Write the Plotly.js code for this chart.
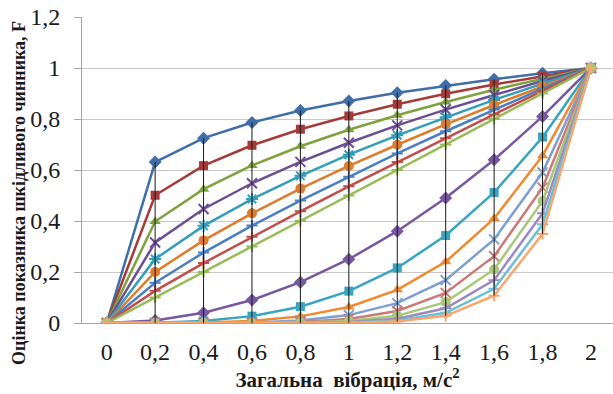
<!DOCTYPE html>
<html>
<head>
<meta charset="utf-8">
<script src="https://cdn.plot.ly/plotly-3.0.1.min.js"></script>
<style>html,body{margin:0;padding:0;background:#fff;}#chart{width:613px;height:394px;}</style>
</head>
<body>
<div id="chart"></div>
<script>
// Загальна вібрація, м/с2
var xValues = [0, 0.2, 0.4, 0.6, 0.8, 1, 1.2, 1.4, 1.6, 1.8, 2];
var xTickLabels = ["0", "0,2", "0,4", "0,6", "0,8", "1", "1,2", "1,4", "1,6", "1,8", "2"];
var yTickValues = [0, 0.2, 0.4, 0.6, 0.8, 1, 1.2];
var yTickLabels = ["0", "0,2", "0,4", "0,6", "0,8", "1", "1,2"];

// upper family of curves
var upper1 = [0, 0.631, 0.725, 0.786, 0.833, 0.871, 0.903, 0.931, 0.956, 0.979, 1];
var upper2 = [0, 0.501, 0.617, 0.697, 0.760, 0.812, 0.858, 0.899, 0.935, 0.969, 1];
var upper3 = [0, 0.398, 0.525, 0.618, 0.693, 0.758, 0.815, 0.867, 0.915, 0.959, 1];
var upper4 = [0, 0.316, 0.447, 0.548, 0.632, 0.707, 0.775, 0.837, 0.894, 0.949, 1];
var upper5 = [0, 0.251, 0.381, 0.486, 0.577, 0.660, 0.736, 0.807, 0.875, 0.939, 1];
var upper6 = [0, 0.200, 0.324, 0.430, 0.527, 0.616, 0.699, 0.779, 0.855, 0.929, 1];
var upper7 = [0, 0.158, 0.276, 0.382, 0.480, 0.574, 0.665, 0.752, 0.837, 0.919, 1];
var upper8 = [0, 0.126, 0.235, 0.338, 0.438, 0.536, 0.631, 0.725, 0.818, 0.910, 1];
var upper9 = [0, 0.100, 0.200, 0.300, 0.400, 0.500, 0.600, 0.700, 0.800, 0.900, 1];
// lower family of curves
var lower1 = [0, 0.010, 0.040, 0.090, 0.160, 0.250, 0.360, 0.490, 0.640, 0.810, 1];
var lower2 = [0, 0.001, 0.008, 0.027, 0.064, 0.125, 0.216, 0.343, 0.512, 0.729, 1];
var lower3 = [0, 0.000, 0.002, 0.008, 0.026, 0.063, 0.130, 0.240, 0.410, 0.656, 1];
var lower4 = [0, 0.000, 0.000, 0.002, 0.010, 0.031, 0.078, 0.168, 0.328, 0.590, 1];
var lower5 = [0, 0.000, 0.000, 0.001, 0.004, 0.016, 0.047, 0.118, 0.262, 0.531, 1];
var lower6 = [0, 0.000, 0.000, 0.000, 0.002, 0.008, 0.028, 0.082, 0.210, 0.478, 1];
var lower7 = [0, 0.000, 0.000, 0.000, 0.001, 0.004, 0.017, 0.058, 0.168, 0.430, 1];
var lower8 = [0, 0.000, 0.000, 0.000, 0.000, 0.002, 0.010, 0.040, 0.134, 0.387, 1];
var lower9 = [0, 0.000, 0.000, 0.000, 0.000, 0.001, 0.006, 0.028, 0.107, 0.349, 1];

var seriesList = [
  {y: upper1, color: '#3F6EA9', symbol: 'diamond', size: 10},
  {y: upper2, color: '#A53B39', symbol: 'square', size: 9},
  {y: upper3, color: '#7EA23E', symbol: 'triangle-up', size: 10},
  {y: upper4, color: '#6D4E95', symbol: 'x-thin-open', size: 10},
  {y: upper5, color: '#339EBB', symbol: 'asterisk-open', size: 10},
  {y: upper6, color: '#DE7C2B', symbol: 'circle', size: 10},
  {y: upper7, color: '#4A80C2', symbol: 'cross-thin-open', size: 8},
  {y: upper8, color: '#C24E4B', symbol: 'cross-thin-open', size: 8},
  {y: upper9, color: '#98BC55', symbol: 'cross-thin-open', size: 8},
  {y: lower1, color: '#7857A0', symbol: 'diamond', size: 10},
  {y: lower2, color: '#38A5C0', symbol: 'square', size: 9},
  {y: lower3, color: '#F0892F', symbol: 'triangle-up', size: 10},
  {y: lower4, color: '#7E9FD1', symbol: 'x-thin-open', size: 10},
  {y: lower5, color: '#CC7A78', symbol: 'x-thin-open', size: 10},
  {y: lower6, color: '#A8C878', symbol: 'circle', size: 10},
  {y: lower7, color: '#9C89C0', symbol: 'cross-thin-open', size: 8},
  {y: lower8, color: '#6CC0D6', symbol: 'cross-thin-open', size: 8},
  {y: lower9, color: '#F8A66C', symbol: 'cross-thin-open', size: 8}
];

var traces = seriesList.map(function (s) {
  var open = s.symbol.indexOf('open') >= 0;
  return {
    type: 'scatter', mode: 'lines+markers', x: xValues, y: s.y,
    line: {color: s.color, width: 2.5},
    marker: {symbol: s.symbol, size: s.size, color: s.color,
             line: {color: s.color, width: open ? 2 : 0}},
    showlegend: false, hoverinfo: 'x+y'
  };
});

// high-low lines between the highest and the lowest series at each x
var hlX = [], hlY = [];
xValues.forEach(function (xv, i) {
  var vals = seriesList.map(function (s) { return s.y[i]; });
  var hi = Math.max.apply(null, vals), lo = Math.min.apply(null, vals);
  if (hi > lo) { hlX.push(xv, xv, null); hlY.push(hi, lo, null); }
});
traces.push({type: 'scatter', mode: 'lines', x: hlX, y: hlY,
  line: {color: '#1a1a1a', width: 1}, showlegend: false, hoverinfo: 'skip'});

var serif = 'Liberation Serif, Times New Roman, serif';
var layout = {
  width: 613, height: 394,
  margin: {l: 82, r: 0, t: 17, b: 71},
  paper_bgcolor: '#ffffff', plot_bgcolor: '#ffffff',
  showlegend: false,
  xaxis: {
    range: [-0.102, 2.091], tickvals: xValues, ticktext: xTickLabels,
    showgrid: false, zeroline: false, showline: true, linecolor: '#A6A6A6', linewidth: 1,
    ticks: '', ticklabelstandoff: 7,
    tickfont: {family: serif, size: 24, color: '#1a1a1a'},
    title: {text: '<b>Загальна  вібрація, м/с<sup>2</sup></b>', standoff: 8,
            font: {family: serif, size: 21, color: '#1a1a1a'}}
  },
  yaxis: {
    range: [0, 1.2], tickvals: yTickValues, ticktext: yTickLabels,
    showgrid: true, gridcolor: '#C8C8C8', gridwidth: 1,
    zeroline: false, showline: true, linecolor: '#A6A6A6', linewidth: 1,
    ticks: 'outside', ticklen: 7, tickcolor: '#A6A6A6', ticklabelstandoff: 9,
    tickfont: {family: serif, size: 24, color: '#1a1a1a'}
  },
  annotations: [{
    text: '<b>Оцінка показника шкідливого чинника, F</b>',
    xref: 'paper', yref: 'paper', x: -0.1186, y: 0.425,
    xanchor: 'center', yanchor: 'middle', textangle: -90, showarrow: false,
    font: {family: serif, size: 18, color: '#1a1a1a'}
  }]
};

Plotly.newPlot('chart', traces, layout, {staticPlot: true, displayModeBar: false});
</script>
</body>
</html>
